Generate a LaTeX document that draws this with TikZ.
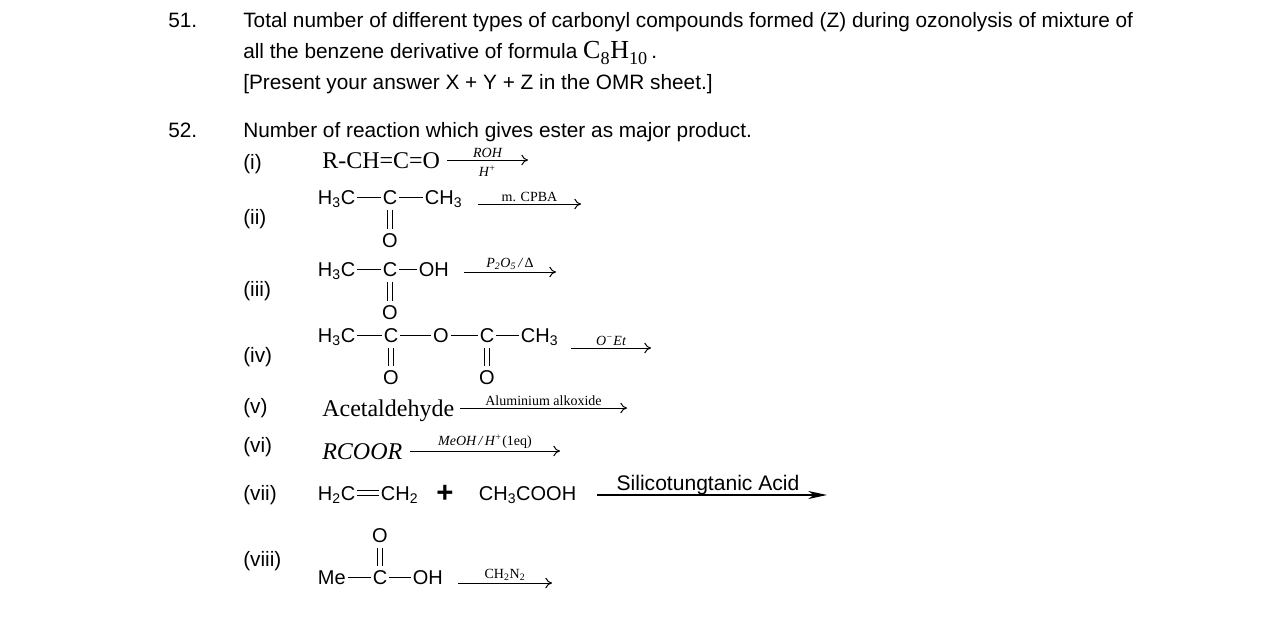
\documentclass[tikz,border=0pt]{standalone}
\usepackage{fontspec}
\setmainfont{Liberation Sans}
\newfontfamily\tnr{Liberation Serif}
\usetikzlibrary{arrows.meta}
\begin{document}
\begin{tikzpicture}[x=0.75pt,y=-0.75pt,
  txt/.style={anchor=base west, inner sep=0pt, font=\fontsize{15.6}{18}\selectfont},
  atom/.style={inner xsep=1.2pt, inner ysep=0pt, text height=10.7pt, text depth=0pt, font=\fontsize{15}{18}\selectfont},
  tatom/.style={anchor=base west, inner sep=0pt, font=\tnr\fontsize{18}{20}\selectfont},
  bond/.style={line width=0.75pt},
  dbond/.style={double, double distance=2.6pt, line width=0.7pt, shorten <=4pt, shorten >=3pt},
  hdbond/.style={double, double distance=2.6pt, line width=0.7pt},
  rxn/.style={line width=0.75pt, -{To[length=5pt,width=8pt]}},
  rxnbig/.style={line width=0.9pt, -{Stealth[length=14pt,width=6pt,inset=4pt]}},
  lab/.style={font=\tnr\fontsize{10.5}{12}\selectfont, inner sep=0pt, anchor=base},
  slab/.style={font=\fontsize{15.8}{18}\selectfont, inner sep=0pt, anchor=base}
]
\useasboundingbox (0,0) rectangle (1275,622);

% Question 51
\node[txt] (q51) at (168,27) {51.};
\node[txt] (l1) at (243,27) {Total number of different types of carbonyl compounds formed (Z) during ozonolysis of mixture of};
\node[txt] (l2) at (243,58) {all the benzene derivative of formula {\tnr\fontsize{19.5}{20}\selectfont C\textsubscript{\raisebox{-1.5pt}{8}}H\textsubscript{\raisebox{-1.5pt}{10}}}\,.};
\node[txt] (l3) at (243,89) {[Present your answer X + Y + Z in the OMR sheet.]};

% Question 52
\node[txt] (q52) at (168,137) {52.};
\node[txt] (l4) at (243,137) {Number of reaction which gives ester as major product.};

% labels
\node[txt] (r1) at (243,169) {(i)};
\node[txt] (r2) at (243,224) {(ii)};
\node[txt] (r3) at (243,296) {(iii)};
\node[txt] (r4) at (243,362) {(iv)};
\node[txt] (r5) at (243,413) {(v)};
\node[txt] (r6) at (243,452) {(vi)};
\node[txt] (r7) at (243,500) {(vii)};
\node[txt] (r8) at (243,566) {(viii)};

% (i)
\node[tatom] (ketene) at (322,168) {R-CH=C=O};
\coordinate (a1s) at (447,160); \coordinate (a1e) at (528,160);
\draw[rxn] (a1s) -- (a1e)
  node[lab, midway, above=1.5pt] (a1t) {\itshape ROH}
  node[lab, midway, below=4pt, anchor=north] (a1b) {\itshape H\textsuperscript{+}};

% (ii)
\node[atom, anchor=west] (h2a) at (316,197) {H\textsubscript{3}C};
\node[atom] (h2c) at (390,197) {C};
\node[atom, anchor=west] (h2d) at (423,197) {CH\textsubscript{3}};
\node[atom] (h2o) at (390,240) {O};
\draw[bond] (h2a) -- (h2c); \draw[bond] (h2c) -- (h2d);
\draw[dbond] (h2c.south) -- (h2o.north);
\coordinate (a2s) at (478,204); \coordinate (a2e) at (581,204);
\draw[rxn] (a2s) -- (a2e) node[lab, midway, above=1.5pt] (a2t) {m. CPBA};

% (iii)
\node[atom, anchor=west] (h3a) at (316,269) {H\textsubscript{3}C};
\node[atom] (h3c) at (390,269) {C};
\node[atom, anchor=west] (h3d) at (417,269) {OH};
\node[atom] (h3o) at (390,312) {O};
\draw[bond] (h3a) -- (h3c); \draw[bond] (h3c) -- (h3d);
\draw[dbond] (h3c.south) -- (h3o.north);
\coordinate (a3s) at (464,272); \coordinate (a3e) at (556,272);
\draw[rxn] (a3s) -- (a3e) node[lab, midway, above=1.5pt] (a3t) {\itshape P\textsubscript{2}O\textsubscript{5}\,/\,\upshape Δ};

% (iv)
\node[atom, anchor=west] (h4a) at (316,335) {H\textsubscript{3}C};
\node[atom] (h4c) at (391,335) {C};
\node[atom] (h4x) at (441,335) {O};
\node[atom] (h4e) at (487,335) {C};
\node[atom, anchor=west] (h4f) at (519,335) {CH\textsubscript{3}};
\node[atom] (h4o) at (391,377) {O};
\node[atom] (h4p) at (487,377) {O};
\draw[bond] (h4a) -- (h4c); \draw[bond] (h4c) -- (h4x);
\draw[bond] (h4x) -- (h4e); \draw[bond] (h4e) -- (h4f);
\draw[dbond] (h4c.south) -- (h4o.north);
\draw[dbond] (h4e.south) -- (h4p.north);
\coordinate (a4s) at (571,348); \coordinate (a4e) at (651,348);
\draw[rxn] (a4s) -- (a4e) node[lab, midway, above=1.5pt] (a4t) {\itshape O\textsuperscript{−}Et};

% (v)
\node[tatom] (acet) at (322,416) {Acetaldehyde};
\coordinate (a5s) at (460,408); \coordinate (a5e) at (627,408);
\draw[rxn] (a5s) -- (a5e) node[lab, midway, above=1.5pt] (a5t) {Aluminium alkoxide};

% (vi)
\node[tatom] (rcoor) at (322,459) {\itshape RCOOR};
\coordinate (a6s) at (410,451); \coordinate (a6e) at (560,451);
\draw[rxn] (a6s) -- (a6e) node[lab, midway, above=1.5pt] (a6t) {\itshape MeOH\,/\,H\textsuperscript{+}\upshape(1eq)};

% (vii)
\node[atom, anchor=west] (h7a) at (316,493) {H\textsubscript{2}C};
\node[atom, anchor=west] (h7b) at (379,493) {CH\textsubscript{2}};
\node[inner sep=0pt, anchor=base, font=\bfseries\fontsize{22}{24}\selectfont] (h7p) at (445,502) {+};
\node[atom, anchor=west] (h7c) at (477,493) {CH\textsubscript{3}COOH};
\draw[hdbond] (h7a) -- (h7b);
\coordinate (a7s) at (597,495); \coordinate (a7e) at (827,495);
\draw[rxnbig] (a7s) -- (a7e) node[slab, midway, above=0pt, xshift=-3pt] (a7t) {Silicotungtanic Acid};

% (viii)
\node[atom, anchor=west] (h8a) at (316,577) {Me};
\node[atom] (h8c) at (380,577) {C};
\node[atom, anchor=west] (h8d) at (411,577) {OH};
\node[atom] (h8o) at (380,535) {O};
\draw[bond] (h8a) -- (h8c); \draw[bond] (h8c) -- (h8d);
\draw[dbond] (h8o.south) -- (h8c.north);
\coordinate (a8s) at (458,583); \coordinate (a8e) at (552,583);
\draw[rxn] (a8s) -- (a8e) node[lab, midway, above=1.5pt] (a8t) {CH\textsubscript{2}N\textsubscript{2}};
\end{tikzpicture}
\end{document}
